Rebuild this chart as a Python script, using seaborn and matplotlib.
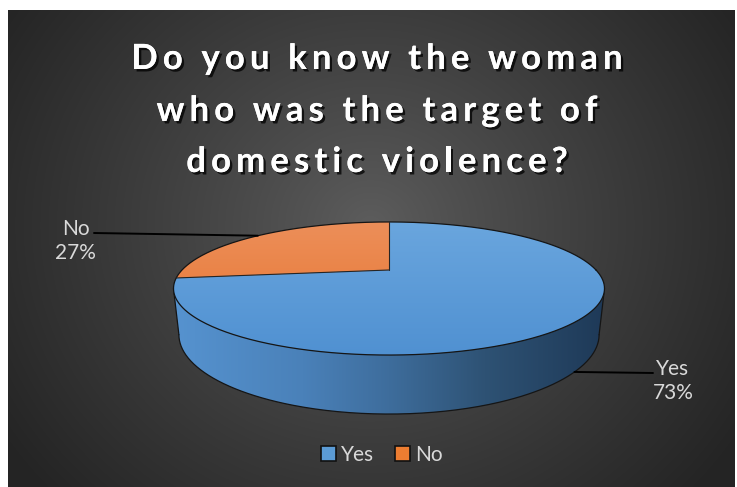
import numpy as np
import matplotlib
matplotlib.use("Agg")
import matplotlib.pyplot as plt
import seaborn as sns
from matplotlib.patches import Polygon, Patch
from matplotlib.colors import LinearSegmentedColormap, to_rgb
import matplotlib.patheffects as pe
from matplotlib.font_manager import FontProperties, findfont, get_font

# ---------------- data ----------------
categories = ["Yes", "No"]
values = [73, 27]
top_colors = [("#6aa6de", "#4f90d1"), ("#ec8f5a", "#e8722b")]
legend_colors = ["#5b9bd5", "#ed7d31"]
title_lines = ["Do you know the woman", "who was the target of", "domestic violence?"]

# ---------------- style ----------------
sns.set_theme(style="white")
plt.rcParams["font.family"] = ["Lato", "DejaVu Sans"]

W, H = 737, 487
fig = plt.figure(figsize=(W / 100, H / 100), dpi=100)
fig.patch.set_facecolor("white")
ax = fig.add_axes([0, 0, 1, 1])
ax.axis("off")

# background radial gradient
bx0, bx1, by0, by1 = 8, 735, 10, 487
yy, xx = np.mgrid[by0:by1, bx0:bx1]
d = np.hypot(xx - 370, (yy - 225) * 1.1)
t = np.clip(d / 440, 0, 1) ** 0.9
c0 = np.array(to_rgb("#5d5d5d"))
c1 = np.array(to_rgb("#242424"))
bg = c0 + (c1 - c0) * t[..., None]
ax.imshow(bg, extent=(bx0, bx1, by1, by0), zorder=0, interpolation="bilinear")

# ---------------- 3D pie geometry ----------------
cx, cy, A, B, p, Hd, kx = 389, 270, 207, 61.4, 0.278, 42.6, 0.975


def top_pt(th):
    x, y = np.cos(th), np.sin(th)
    f = 1 / (1 + p * y)
    return cx + A * x * f, cy - B * y * f


def bot_pt(th):
    x, y = np.cos(th), np.sin(th)
    f = 1 / (1 + p * y)
    return cx + A * x * f * kx, cy - B * y * f + Hd * f


# side (front visible part)
thL = np.pi + np.arcsin(p)
thR = 2 * np.pi - np.arcsin(p)
ths = np.linspace(thL, thR, 300)
tx, ty = top_pt(ths)
bxp, byp = bot_pt(ths)
side_xy = np.column_stack([np.r_[tx, bxp[::-1]], np.r_[ty, byp[::-1]]])
side_poly = Polygon(side_xy, closed=True, facecolor="none", edgecolor="none",
                    transform=ax.transData)
ax.add_patch(side_poly)
side_cmap = LinearSegmentedColormap.from_list(
    "side", [(0, "#5693d0"), (0.3, "#4a81b9"), (0.5, "#3e6d9c"),
             (0.72, "#2e5274"), (1, "#1e3957")])
grad = np.linspace(0, 1, 256)[None, :]
im = ax.imshow(grad, cmap=side_cmap, extent=(cx - A * 1.05, cx + A * 1.05, 430, 260),
               zorder=2, interpolation="bilinear", aspect="auto")
im.set_clip_path(side_poly)
ax.plot(bxp, byp, color="#151515", lw=0.9, zorder=3)
ax.plot([tx[0], bxp[0]], [ty[0], byp[0]], color="#151515", lw=0.9, zorder=3)
ax.plot([tx[-1], bxp[-1]], [ty[-1], byp[-1]], color="#151515", lw=0.9, zorder=3)

# top wedges: start at 12 o'clock, clockwise
total = float(sum(values))
start = np.pi / 2
mids = []
bounds = []
for val, (ctop, cbot) in zip(values, top_colors):
    span = 2 * np.pi * val / total
    a = np.linspace(start, start - span, 300)
    wx, wy = top_pt(a)
    xy = np.column_stack([np.r_[cx, wx], np.r_[cy, wy]])
    poly = Polygon(xy, closed=True, facecolor="none", edgecolor="none",
                   transform=ax.transData)
    ax.add_patch(poly)
    cm = LinearSegmentedColormap.from_list("w", [ctop, cbot])
    g = np.linspace(0, 1, 256)[:, None]
    im2 = ax.imshow(g, cmap=cm, extent=(cx - A * 1.1, cx + A * 1.1, cy + 90, cy - 50),
                    zorder=4, interpolation="bilinear", aspect="auto")
    im2.set_clip_path(poly)
    mids.append(start - span / 2)
    bounds.append(start)
    start -= span

# outlines
full = np.linspace(0, 2 * np.pi, 600)
ox, oy = top_pt(full)
ax.plot(ox, oy, color="#151515", lw=0.9, zorder=5)
for bth in bounds:
    ex, ey = top_pt(bth)
    ax.plot([cx, ex], [cy, ey], color="#252525", lw=0.8, zorder=5)

# ---------------- data labels ----------------
lab_color = "#d9d9d9"
pct = [f"{v}%" for v in values]
# Yes label (right) - leader from side bottom
yx, yy_ = bot_pt(mids[0])
ax.plot([yx, 653], [yy_, 373], color="black", lw=1.4, zorder=6)
ax.text(673, 381, f"{categories[0]}\n{pct[0]}", ha="center", va="center",
        color=lab_color, fontsize=15, linespacing=1.25, zorder=7)
# No label (left) - leader to top face
nx, ny = top_pt(mids[1])
ax.plot([94, nx], [233, ny], color="black", lw=1.4, zorder=6)
ax.text(75.5, 241, f"{categories[1]}\n{pct[1]}", ha="center", va="center",
        color=lab_color, fontsize=15, linespacing=1.25, zorder=7)

# ---------------- title with letter spacing ----------------
TS = 25
fp = FontProperties(family="Lato", weight="bold", size=TS)
font = get_font(findfont(fp))
font.set_size(TS, 100)
spacing = 5.1
baselines = [69, 121, 172]
shadow = [pe.withSimplePatchShadow(offset=(1.8, -1.8), shadow_rgbFace="black", alpha=0.75),
          pe.Normal()]
for line, yb in zip(title_lines, baselines):
    adv = []
    for ch in line:
        gl = font.load_char(ord(ch))
        adv.append(gl.linearHoriAdvance / 65536)
    tot = sum(adv) + spacing * (len(line) - 1)
    x = 377 - tot / 2
    for ch, a in zip(line, adv):
        if ch != " ":
            ax.text(x, yb, ch, fontproperties=fp, color="white", ha="left",
                    va="baseline", zorder=8, path_effects=shadow)
        x += a + spacing

# ---------------- legend ----------------
handles = [Patch(facecolor=c, edgecolor="#111111", linewidth=1.2) for c in legend_colors]
leg = fig.legend(handles, categories, loc="center", bbox_to_anchor=(382 / W, 1 - 455 / H),
                 ncol=2, frameon=False, fontsize=15, labelcolor=lab_color,
                 handlelength=0.7, handleheight=0.7, handletextpad=0.25,
                 columnspacing=1.0)

ax.set_xlim(0, W)
ax.set_ylim(H, 0)
ax.set_aspect("auto")
fig.savefig("out.png", dpi=100, facecolor="white")
